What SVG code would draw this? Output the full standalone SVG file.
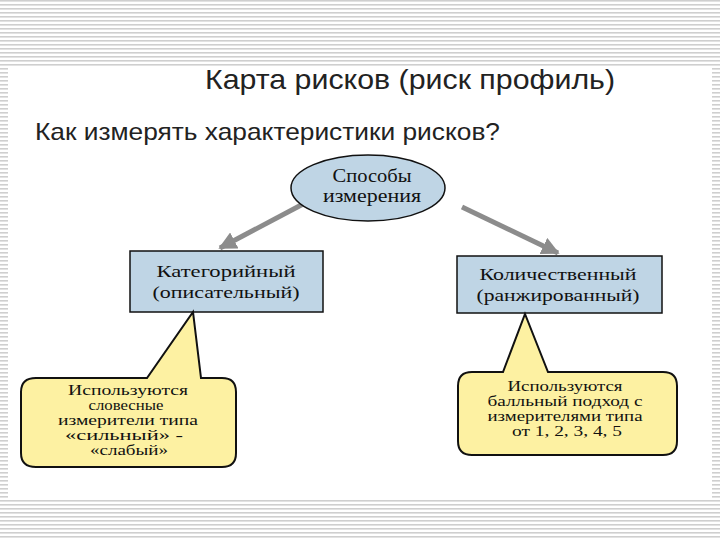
<svg xmlns="http://www.w3.org/2000/svg" width="720" height="540" viewBox="0 0 720 540">
<defs>
<pattern id="stripes" width="8" height="4" patternUnits="userSpaceOnUse">
<rect width="8" height="4" fill="#ffffff"/>
<rect y="0" width="8" height="1.6" fill="#cfcfcf"/>
</pattern>
<marker id="arr" viewBox="0 0 10 10" refX="9" refY="5" markerWidth="3.6" markerHeight="3.6" orient="auto" markerUnits="strokeWidth">
<path d="M0,0 L10,5 L0,10 z" fill="#8c8c8c"/>
</marker>
<style>
.sans{font-family:"Liberation Sans",Arial,sans-serif;fill:#222}
.serif{font-family:"Liberation Serif","Times New Roman",serif;fill:#111;text-anchor:middle}
.ct{font-size:14px}
.box{fill:#bfd5e5;stroke:#111;stroke-width:1.5}
.call{fill:#fdf1a2;stroke:#111;stroke-width:2}
.conn{stroke:#8c8c8c;stroke-width:5;fill:none}
</style>
</defs>
<rect width="720" height="540" fill="url(#stripes)"/>
<rect x="8" y="68" width="704" height="432" fill="#ffffff"/>
<text class="sans" x="205" y="89" font-size="28" textLength="410" lengthAdjust="spacingAndGlyphs">Карта рисков (риск профиль)</text>
<text class="sans" x="35" y="140" font-size="24" textLength="465" lengthAdjust="spacingAndGlyphs">Как измерять характеристики рисков?</text>
<g id="connectors">
<line class="conn" x1="305" y1="203" x2="220" y2="248" marker-end="url(#arr)"/>
<line class="conn" x1="462" y1="207" x2="558" y2="253" marker-end="url(#arr)"/>
</g>
<g id="root">
<ellipse class="box" cx="368" cy="188" rx="77" ry="33"/>
<text class="serif" x="372" y="182" font-size="18" textLength="79" lengthAdjust="spacingAndGlyphs">Способы</text>
<text class="serif" x="372" y="202" font-size="18" textLength="98" lengthAdjust="spacingAndGlyphs">измерения</text>
</g>
<g id="categorical">
<rect class="box" x="130" y="251" width="193" height="61"/>
<text class="serif" x="226" y="277" font-size="17" textLength="139" lengthAdjust="spacingAndGlyphs">Категорийный</text>
<text class="serif" x="226" y="298" font-size="17" textLength="147" lengthAdjust="spacingAndGlyphs">(описательный)</text>
</g>
<g id="quantitative">
<rect class="box" x="457" y="256" width="205" height="57"/>
<text class="serif" x="558" y="280" font-size="17" textLength="157" lengthAdjust="spacingAndGlyphs">Количественный</text>
<text class="serif" x="558" y="301" font-size="17" textLength="163" lengthAdjust="spacingAndGlyphs">(ранжированный)</text>
</g>
<g id="callout-left">
<path class="call" d="M36,378 L147,378 L193,312 L201,378 L222,378 Q236,378 236,392 L236,453 Q236,467 222,467 L36,467 Q21,467 21,453 L21,392 Q21,378 36,378 Z"/>
<text class="serif ct" x="128" y="395" textLength="120" lengthAdjust="spacingAndGlyphs">Используются</text>
<text class="serif ct" x="126" y="410" textLength="75" lengthAdjust="spacingAndGlyphs">словесные</text>
<text class="serif ct" x="128" y="425" textLength="140" lengthAdjust="spacingAndGlyphs">измерители типа</text>
<text class="serif ct" x="124" y="440" textLength="118" lengthAdjust="spacingAndGlyphs">«сильный» -</text>
<text class="serif ct" x="129" y="455" textLength="78" lengthAdjust="spacingAndGlyphs">«слабый»</text>
</g>
<g id="callout-right">
<path class="call" d="M472,372 L503,372 L525,314 L548,372 L663,372 Q677,372 677,386 L677,441 Q677,455 663,455 L472,455 Q458,455 458,441 L458,386 Q458,372 472,372 Z"/>
<text class="serif ct" x="565" y="391" textLength="115" lengthAdjust="spacingAndGlyphs">Используются</text>
<text class="serif ct" x="565" y="406" textLength="155" lengthAdjust="spacingAndGlyphs">балльный подход с</text>
<text class="serif ct" x="565" y="421" textLength="155" lengthAdjust="spacingAndGlyphs">измерителями типа</text>
<text class="serif ct" x="567" y="436" textLength="110" lengthAdjust="spacingAndGlyphs">от 1, 2, 3, 4, 5</text>
</g>
</svg>
